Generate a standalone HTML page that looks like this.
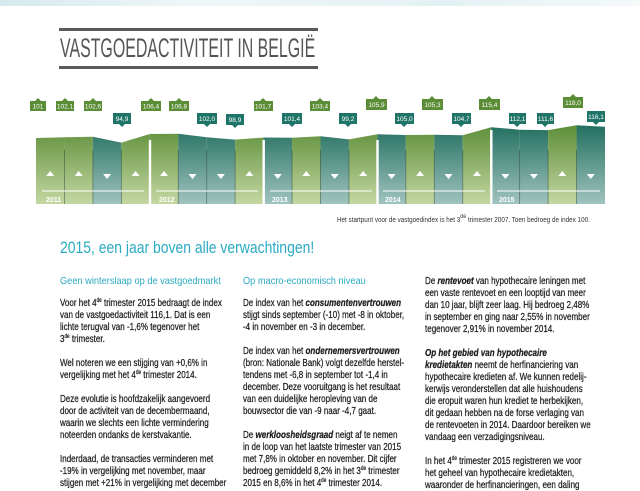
<!DOCTYPE html>
<html><head><meta charset="utf-8"><style>
body{margin:0;width:640px;height:480px;overflow:hidden;background:#fff;position:relative;font-family:"Liberation Sans",sans-serif}
.t{position:absolute;white-space:nowrap;transform-origin:0 0}
.b{font-size:10.5px;line-height:12px;color:#1c1c1c;transform:scaleX(.765);-webkit-text-stroke:.25px #1c1c1c}
.h{font-size:10.5px;line-height:12px;color:#2aa9c2;transform:scaleX(.88)}
sup{font-size:6px;line-height:0;vertical-align:4px}
i b{font-weight:bold}
</style></head><body>
<div style="position:absolute;left:0;top:0;width:640px;height:6px;background:linear-gradient(90deg,#d6e9ee,#eef6f8 30%,#e4f1f4 70%,#f4f9fa)"></div>
<div style="position:absolute;left:59px;top:28px;width:259px;height:3px;background:#5a5a5a"></div>
<div style="position:absolute;left:59px;top:66px;width:259px;height:3px;background:#5a5a5a"></div>
<div class="t" style="left:60px;top:33px;font-size:27px;line-height:30px;color:#555;transform:scaleX(.59)">VASTGOEDACTIVITEIT IN BELGIË</div>

<svg width="640" height="240" style="position:absolute;left:0;top:0">
<defs>
<linearGradient id="g" x1="0" y1="125" x2="0" y2="204" gradientUnits="userSpaceOnUse"><stop offset="0" stop-color="#5d8e39"/><stop offset="1" stop-color="#c4d7a2"/></linearGradient>
<linearGradient id="k" x1="0" y1="125" x2="0" y2="204" gradientUnits="userSpaceOnUse"><stop offset="0" stop-color="#226f5f"/><stop offset="1" stop-color="#a0c3be"/></linearGradient>
</defs>
<g>
<polygon fill="url(#g)" points="36,138 64.45,137.2 64.45,204 36,204"/>
<polygon fill="url(#g)" points="64.45,137.2 92.9,136.8 92.9,204 64.45,204"/>
<polygon fill="url(#k)" points="92.9,136.8 121.35,142.6 121.35,204 92.9,204"/>
<polygon fill="url(#g)" points="121.35,142.6 149.8,134 149.8,204 121.35,204"/>
<polygon fill="url(#g)" points="149.8,134 178.25,133.7 178.25,204 149.8,204"/>
<polygon fill="url(#k)" points="178.25,133.7 206.7,137.3 206.7,204 178.25,204"/>
<polygon fill="url(#k)" points="206.7,137.3 235.15,139.6 235.15,204 206.7,204"/>
<polygon fill="url(#g)" points="235.15,139.6 263.6,137.5 263.6,204 235.15,204"/>
<polygon fill="url(#k)" points="263.6,137.5 292.05,137.7 292.05,204 263.6,204"/>
<polygon fill="url(#g)" points="292.05,137.7 320.5,136.2 320.5,204 292.05,204"/>
<polygon fill="url(#k)" points="320.5,136.2 348.95,139.4 348.95,204 320.5,204"/>
<polygon fill="url(#g)" points="348.95,139.4 377.4,134.3 377.4,204 348.95,204"/>
<polygon fill="url(#k)" points="377.4,134.3 405.85,135 405.85,204 377.4,204"/>
<polygon fill="url(#g)" points="405.85,135 434.3,134.8 434.3,204 405.85,204"/>
<polygon fill="url(#k)" points="434.3,134.8 462.75,135.2 462.75,204 434.3,204"/>
<polygon fill="url(#g)" points="462.75,135.2 491.2,127.2 491.2,204 462.75,204"/>
<polygon fill="url(#k)" points="491.2,127.2 519.65,129.7 519.65,204 491.2,204"/>
<polygon fill="url(#k)" points="519.65,129.7 548.1,130.1 548.1,204 519.65,204"/>
<polygon fill="url(#g)" points="548.1,130.1 576.55,125.25 576.55,204 548.1,204"/>
<polygon fill="url(#k)" points="576.55,125.25 605,126.7 605,204 576.55,204"/>
</g>
<g stroke="#1f3a2a" stroke-opacity=".55" stroke-width=".8">
<line x1="64.45" y1="150" x2="64.45" y2="204"/><line x1="92.9" y1="150" x2="92.9" y2="204"/><line x1="121.35" y1="150" x2="121.35" y2="204"/>
<line x1="178.25" y1="150" x2="178.25" y2="204"/><line x1="206.7" y1="150" x2="206.7" y2="204"/><line x1="235.15" y1="150" x2="235.15" y2="204"/>
<line x1="292.05" y1="150" x2="292.05" y2="204"/><line x1="320.5" y1="150" x2="320.5" y2="204"/><line x1="348.95" y1="150" x2="348.95" y2="204"/>
<line x1="405.85" y1="150" x2="405.85" y2="204"/><line x1="434.3" y1="150" x2="434.3" y2="204"/><line x1="462.75" y1="150" x2="462.75" y2="204"/>
<line x1="519.65" y1="150" x2="519.65" y2="204"/><line x1="548.1" y1="150" x2="548.1" y2="204"/><line x1="576.55" y1="150" x2="576.55" y2="204"/>
</g>
<g fill="#fff">
<rect x="148.8" y="140" width="2.4" height="65"/><rect x="262.5" y="140" width="2.4" height="65"/><rect x="376.3" y="140" width="2.4" height="65"/><rect x="490.1" y="130" width="2.4" height="75"/>
</g>
<g stroke="#fff" stroke-width="1">
<line x1="42" y1="191" x2="144" y2="191"/><line x1="156" y1="191" x2="258" y2="191"/><line x1="270" y1="191" x2="372" y2="191"/><line x1="383" y1="191" x2="485" y2="191"/><line x1="497" y1="191" x2="600" y2="191"/>
</g>
<g fill="#fff" font-size="7" font-weight="bold" font-family="Liberation Sans Narrow, Liberation Sans, sans-serif">
<text x="46" y="202">2011</text><text x="159" y="202">2012</text><text x="272" y="202">2013</text><text x="385" y="202">2014</text><text x="499" y="202">2015</text>
</g>
<g fill="#fff">
<path d="M46.2,176h8l-4,-5z"/><path d="M74.7,176h8l-4,-5z"/><path d="M103.1,174h8l-4,5z"/><path d="M131.6,176h8l-4,-5z"/>
<path d="M160,176h8l-4,-5z"/><path d="M188.5,174h8l-4,5z"/><path d="M216.9,174h8l-4,5z"/><path d="M245.4,176h8l-4,-5z"/>
<path d="M273.8,174h8l-4,5z"/><path d="M302.3,176h8l-4,-5z"/><path d="M330.7,174h8l-4,5z"/><path d="M359.2,176h8l-4,-5z"/>
<path d="M387.6,174h8l-4,5z"/><path d="M416.1,176h8l-4,-5z"/><path d="M444.5,174h8l-4,5z"/><path d="M473,176h8l-4,-5z"/>
<path d="M501.4,174h8l-4,5z"/><path d="M529.9,174h8l-4,5z"/><path d="M558.3,176h8l-4,-5z"/><path d="M586.8,174h8l-4,5z"/>
</g>
<g font-size="6.5" font-family="Liberation Sans Narrow, Liberation Sans, sans-serif" text-anchor="middle" fill="#fff">
<g fill="#5b8c36"><rect x="30" y="101" width="16" height="10"/><path d="M35,101h6l-3,-3z"/></g><text x="38" y="108.5">101</text>
<g fill="#5b8c36"><rect x="56" y="101" width="18" height="10"/><path d="M62,101h6l-3,-3z"/></g><text x="65" y="108.5">102,1</text>
<g fill="#5b8c36"><rect x="84" y="101" width="18" height="10"/><path d="M90,101h6l-3,-3z"/></g><text x="93" y="108.5">102,6</text>
<g fill="#1f7468"><rect x="113" y="113" width="18" height="11"/><path d="M119,124h6l-3,3z"/></g><text x="122" y="121">94,9</text>
<g fill="#5b8c36"><rect x="141" y="101" width="20" height="10"/><path d="M148,101h6l-3,-3z"/></g><text x="151" y="108.5">106,4</text>
<g fill="#5b8c36"><rect x="169" y="101" width="20" height="10"/><path d="M176,101h6l-3,-3z"/></g><text x="179" y="108.5">106,8</text>
<g fill="#1f7468"><rect x="197" y="113" width="20" height="11"/><path d="M204,124h6l-3,3z"/></g><text x="207" y="121">102,0</text>
<g fill="#1f7468"><rect x="226" y="114" width="18" height="11"/><path d="M232,125h6l-3,3z"/></g><text x="235" y="122">98,9</text>
<g fill="#5b8c36"><rect x="254" y="101" width="19" height="10"/><path d="M260,101h6l-3,-3z"/></g><text x="263" y="108.5">101,7</text>
<g fill="#1f7468"><rect x="282" y="113" width="20" height="11"/><path d="M289,124h6l-3,3z"/></g><text x="292" y="121">101,4</text>
<g fill="#5b8c36"><rect x="310" y="101" width="20" height="10"/><path d="M317,101h6l-3,-3z"/></g><text x="320" y="108.5">103,4</text>
<g fill="#1f7468"><rect x="339" y="113" width="18" height="11"/><path d="M345,124h6l-3,3z"/></g><text x="348" y="121">99,2</text>
<g fill="#5b8c36"><rect x="366" y="99" width="21" height="11"/><path d="M373,99h6l-3,-3z"/></g><text x="376.5" y="107">105,9</text>
<g fill="#1f7468"><rect x="395" y="113" width="19" height="11"/><path d="M401,124h6l-3,3z"/></g><text x="404.5" y="121">105,0</text>
<g fill="#5b8c36"><rect x="422" y="99" width="21" height="11"/><path d="M429,99h6l-3,-3z"/></g><text x="432.5" y="107">105,3</text>
<g fill="#1f7468"><rect x="452" y="113" width="19" height="11"/><path d="M458,124h6l-3,3z"/></g><text x="461.5" y="121">104,7</text>
<g fill="#5b8c36"><rect x="479" y="99" width="21" height="11"/><path d="M486,99h6l-3,-3z"/></g><text x="489.5" y="107">115,4</text>
<g fill="#1f7468"><rect x="509" y="113" width="17" height="11"/><path d="M514,124h6l-3,3z"/></g><text x="517.5" y="121">112,1</text>
<g fill="#1f7468"><rect x="537" y="113" width="17" height="11"/><path d="M542,124h6l-3,3z"/></g><text x="545.5" y="121">111,6</text>
<g fill="#5b8c36"><rect x="563" y="97" width="20" height="11"/><path d="M570,97h6l-3,-3z"/></g><text x="573" y="105">118,0</text>
<g fill="#1f7468"><rect x="587" y="111" width="18" height="11"/><path d="M593,122h6l-3,3z"/></g><text x="596" y="119">116,1</text>
</g>
</svg>

<div class="t" style="left:337px;top:217px;font-size:7px;color:#333;transform:scaleX(.9)">Het startpunt voor de vastgoedindex is het 3<sup>de</sup> trimester 2007. Toen bedroeg de index 100.</div>

<div class="t" style="left:60px;top:238px;font-size:17px;line-height:20px;color:#2aabc4;transform:scaleX(.82)">2015, een jaar boven alle verwachtingen!</div>

<div class="t h" style="left:60px;top:275px">Geen winterslaap op de vastgoedmarkt</div>
<div class="t b" style="left:60px;top:297px">Voor het 4<sup>de</sup> trimester 2015 bedraagt de index<br>van de vastgoedactiviteit 116,1. Dat is een<br>lichte terugval van -1,6% tegenover het<br>3<sup>de</sup> trimester.<br><br>Wel noteren we een stijging van +0,6% in<br>vergelijking met het 4<sup>de</sup> trimester 2014.<br><br>Deze evolutie is hoofdzakelijk aangevoerd<br>door de activiteit van de decembermaand,<br>waarin we slechts een lichte vermindering<br>noteerden ondanks de kerstvakantie.<br><br>Inderdaad, de transacties verminderen met<br>-19% in vergelijking met november, maar<br>stijgen met +21% in vergelijking met december</div>

<div class="t h" style="left:243px;top:275px">Op macro-economisch niveau</div>
<div class="t b" style="left:243px;top:297px">De index van het <i><b>consumentenvertrouwen</b></i><br>stijgt sinds september (-10) met -8 in oktober,<br>-4 in november en -3 in december.<br><br>De index van het <i><b>ondernemersvertrouwen</b></i><br>(bron: Nationale Bank) volgt dezelfde herstel-<br>tendens met -6,8 in september tot -1,4 in<br>december. Deze vooruitgang is het resultaat<br>van een duidelijke heropleving van de<br>bouwsector die van -9 naar -4,7 gaat.<br><br>De <i><b>werkloosheidsgraad</b></i> neigt af te nemen<br>in de loop van het laatste trimester van 2015<br>met 7,8% in oktober en november. Dit cijfer<br>bedroeg gemiddeld 8,2% in het 3<sup>de</sup> trimester<br>2015 en 8,6% in het 4<sup>de</sup> trimester 2014.</div>

<div class="t b" style="left:425px;top:275px">De <i><b>rentevoet</b></i> van hypothecaire leningen met<br>een vaste rentevoet en een looptijd van meer<br>dan 10 jaar, blijft zeer laag. Hij bedroeg 2,48%<br>in september en ging naar 2,55% in november<br>tegenover 2,91% in november 2014.<br><br><i><b>Op het gebied van hypothecaire</b></i><br><i><b>kredietakten</b></i> neemt de herfinanciering van<br>hypothecaire kredieten af. We kunnen redelij-<br>kerwijs veronderstellen dat alle huishoudens<br>die eropuit waren hun krediet te herbekijken,<br>dit gedaan hebben na de forse verlaging van<br>de rentevoeten in 2014. Daardoor bereiken we<br>vandaag een verzadigingsniveau.<br><br>In het 4<sup>de</sup> trimester 2015 registreren we voor<br>het geheel van hypothecaire kredietakten,<br>waaronder de herfinancieringen, een daling</div>
</body></html>
